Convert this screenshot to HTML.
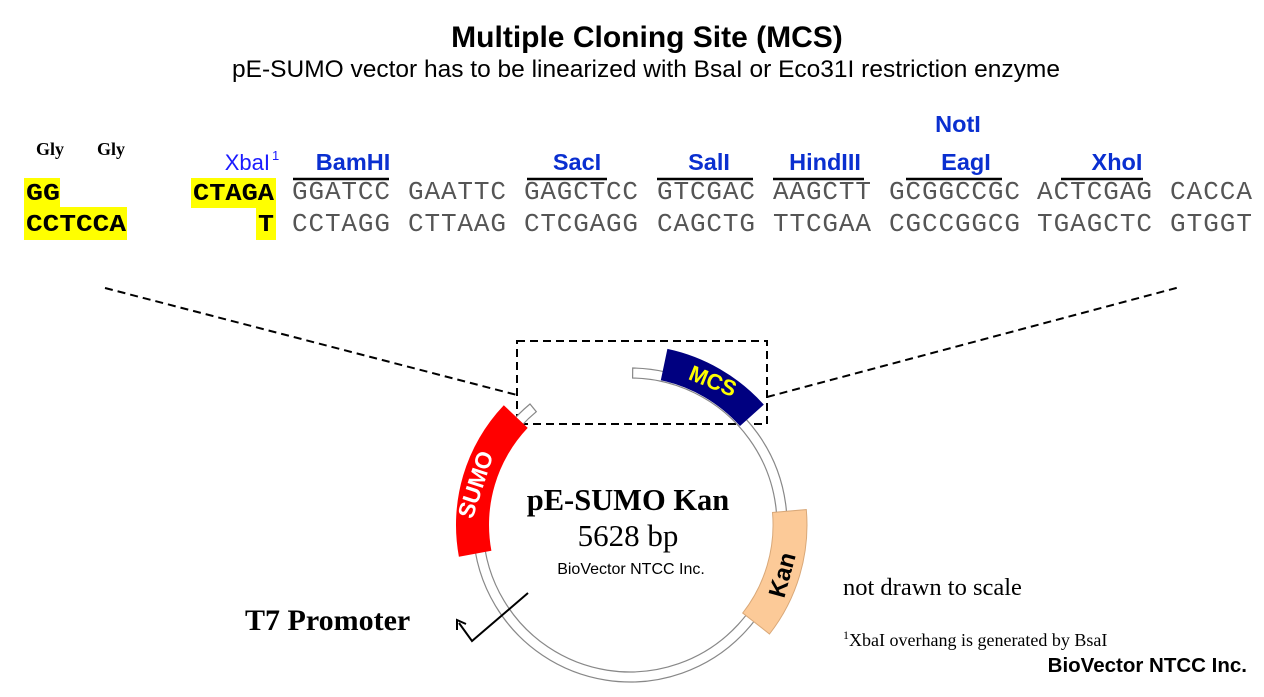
<!DOCTYPE html>
<html><head><meta charset="utf-8"><style>
html,body{margin:0;padding:0;background:#fff;}
svg{display:block;}
.seq{font-family:"Liberation Mono",monospace;font-size:26px;fill:#555;}
.bseq{font-family:"Liberation Mono",monospace;font-size:24px;font-weight:bold;fill:#000;}
.enz{font-family:"Liberation Sans",sans-serif;font-size:23.5px;font-weight:bold;fill:#0a2fd0;}
</style></head><body>
<svg width="1264" height="697" viewBox="0 0 1264 697" xmlns="http://www.w3.org/2000/svg">
<text x="647" y="47" text-anchor="middle" font-family="Liberation Sans,sans-serif" font-size="30" font-weight="bold">Multiple Cloning Site (MCS)</text>
<text x="646" y="77" text-anchor="middle" font-family="Liberation Sans,sans-serif" font-size="24.5">pE-SUMO vector has to be linearized with BsaI or Eco31I restriction enzyme</text>

<text x="36" y="155" font-family="Liberation Serif,serif" font-size="18" font-weight="bold">Gly</text>
<text x="97" y="155" font-family="Liberation Serif,serif" font-size="18" font-weight="bold">Gly</text>

<rect x="24" y="178" width="36" height="30" fill="#ffff00"/>
<rect x="24" y="207" width="103" height="33" fill="#ffff00"/>
<rect x="191" y="178" width="85" height="30" fill="#ffff00"/>
<rect x="256" y="207" width="20" height="33" fill="#ffff00"/>
<text class="bseq" x="26" y="200" textLength="34" lengthAdjust="spacingAndGlyphs">GG</text>
<text class="bseq" x="26" y="231" textLength="100" lengthAdjust="spacingAndGlyphs">CCTCCA</text>
<text class="bseq" x="193" y="200" textLength="81" lengthAdjust="spacingAndGlyphs">CTAGA</text>
<text class="bseq" x="258" y="231" textLength="16" lengthAdjust="spacingAndGlyphs">T</text>

<text x="270" y="170" text-anchor="end" font-family="Liberation Sans,sans-serif" font-size="22" fill="#1a1aff">XbaI</text>
<text x="272" y="160" font-family="Liberation Sans,sans-serif" font-size="13" fill="#1a1aff">1</text>
<text class="enz" x="353" y="170" text-anchor="middle">BamHI</text>
<text class="enz" x="577" y="170" text-anchor="middle">SacI</text>
<text class="enz" x="709" y="170" text-anchor="middle">SalI</text>
<text class="enz" x="825" y="170" text-anchor="middle">HindIII</text>
<text class="enz" x="958" y="132" text-anchor="middle">NotI</text>
<text class="enz" x="966" y="170" text-anchor="middle">EagI</text>
<text class="enz" x="1117" y="170" text-anchor="middle">XhoI</text>
<g stroke="#000" stroke-width="2.5">
<line x1="293" y1="179" x2="389" y2="179"/>
<line x1="527" y1="179" x2="607" y2="179"/>
<line x1="657" y1="179" x2="753" y2="179"/>
<line x1="773" y1="179" x2="864" y2="179"/>
<line x1="906" y1="179" x2="1002" y2="179"/>
<line x1="1061" y1="179" x2="1143" y2="179"/>
</g>

<g class="seq">
<text x="292" y="199" textLength="98">GGATCC</text>
<text x="408" y="199" textLength="98">GAATTC</text>
<text x="524" y="199" textLength="114">GAGCTCC</text>
<text x="657" y="199" textLength="98">GTCGAC</text>
<text x="773" y="199" textLength="98">AAGCTT</text>
<text x="889" y="199" textLength="131">GCGGCCGC</text>
<text x="1037" y="199" textLength="115">ACTCGAG</text>
<text x="1170" y="199" textLength="82">CACCA</text>
<text x="292" y="231" textLength="98">CCTAGG</text>
<text x="408" y="231" textLength="98">CTTAAG</text>
<text x="524" y="231" textLength="114">CTCGAGG</text>
<text x="657" y="231" textLength="98">CAGCTG</text>
<text x="773" y="231" textLength="98">TTCGAA</text>
<text x="889" y="231" textLength="131">CGCCGGCG</text>
<text x="1037" y="231" textLength="115">TGAGCTC</text>
<text x="1170" y="231" textLength="82">GTGGT</text>
</g>

<g stroke="#000" stroke-width="2" stroke-dasharray="8,5" fill="none">
<line x1="105" y1="288" x2="517" y2="395"/>
<line x1="767" y1="397" x2="1180" y2="287"/>
<rect x="517" y="341" width="250" height="83"/>
</g>

<path d="M632.7 368 A157 157 0 1 1 530 404 L536.3 411.7 A147 147 0 1 0 632.6 378 Z" fill="#fff" stroke="#888" stroke-width="1.2"/>
<path d="M458.9 556.7 A174 174 0 0 1 503.8 405.2 L527.7 427.9 A141 141 0 0 0 491.4 550.7 Z" fill="#ff0000"/>
<path d="M667.4 348.9 A180 180 0 0 1 763.8 404.6 L740 426 A148 148 0 0 0 660.8 380.2 Z" fill="#000080"/>
<path d="M806.3 509.6 A177 177 0 0 1 769.5 634 L742.7 613 A143 143 0 0 0 772.5 512.5 Z" fill="#fcca98" stroke="#d9a878" stroke-width="1"/>

<text transform="translate(483,487) rotate(-72)" text-anchor="middle" font-family="Liberation Sans,sans-serif" font-size="23" font-weight="bold" fill="#fff">SUMO</text>
<text transform="translate(710,388) rotate(22)" text-anchor="middle" font-family="Liberation Sans,sans-serif" font-size="22" font-weight="bold" fill="#ffff00">MCS</text>
<text transform="translate(790,577) rotate(-75)" text-anchor="middle" font-family="Liberation Sans,sans-serif" font-size="24" font-weight="bold" fill="#000">Kan</text>

<text x="628" y="510" text-anchor="middle" font-family="Liberation Serif,serif" font-size="30.5" font-weight="bold">pE-SUMO Kan</text>
<text x="628" y="546" text-anchor="middle" font-family="Liberation Serif,serif" font-size="31">5628 bp</text>
<text x="631" y="574" text-anchor="middle" font-family="Liberation Sans,sans-serif" font-size="16">BioVector NTCC Inc.</text>

<polyline points="528,593 472,641 459,623" fill="none" stroke="#000" stroke-width="2"/>
<polyline points="457,630 457,620 466,624" fill="none" stroke="#000" stroke-width="2"/>
<text x="245" y="630" font-family="Liberation Serif,serif" font-size="30" font-weight="bold">T7 Promoter</text>

<text x="843" y="595" font-family="Liberation Serif,serif" font-size="24.5">not drawn to scale</text>
<text x="843" y="639" font-family="Liberation Serif,serif" font-size="12">1</text>
<text x="849" y="646" font-family="Liberation Serif,serif" font-size="18">XbaI overhang is generated by BsaI</text>
<text x="1247" y="672" text-anchor="end" font-family="Liberation Sans,sans-serif" font-size="20.5" font-weight="bold">BioVector NTCC Inc.</text>
</svg>
</body></html>
